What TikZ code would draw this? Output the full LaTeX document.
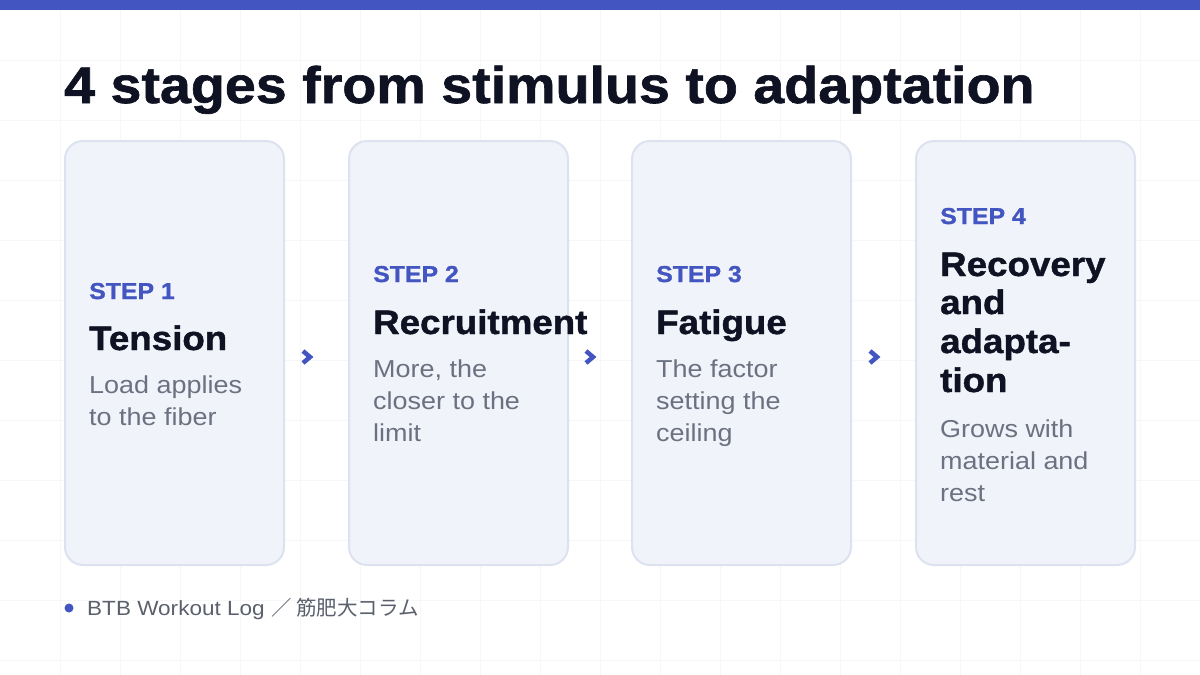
\documentclass[tikz,border=0pt]{standalone}
\usepackage{fontspec}
\setmainfont{Liberation Sans}
\newfontfamily\heavy[FakeStretch=1.08,FakeBold=1.2]{Liberation Sans Bold}
\newfontfamily\widereg[FakeStretch=1.1]{Liberation Sans}
\newfontfamily\cjk{Noto Sans CJK JP}
\definecolor{accent}{HTML}{4355C1}
\definecolor{ink}{HTML}{0F1222}
\definecolor{muted}{HTML}{6B7180}
\definecolor{cardfill}{HTML}{F1F3FA}
\definecolor{cardline}{HTML}{DDE2F0}
\definecolor{gridc}{HTML}{F6F7F9}
\tikzset{
  card/.style={draw=cardline,line width=2pt,fill=cardfill,rounded corners=18pt},
  steplbl/.style={anchor=base west,inner sep=0,text=accent,font=\heavy\fontsize{23}{23}\selectfont},
  ttl/.style={anchor=base west,inner sep=0,text=ink,font=\heavy\fontsize{34}{34}\selectfont},
  desc/.style={anchor=base west,inner sep=0,text=muted,font=\widereg\fontsize{24.5}{24.5}\selectfont},
  chev/.style={draw=accent,line width=4.5pt,line cap=butt,line join=miter},
}
\begin{document}
\begin{tikzpicture}[x=1pt,y=-1pt]
\useasboundingbox (0,0) rectangle (1200,675);
\fill[white] (0,0) rectangle (1200,675);
\foreach \i in {60,120,...,1140} \draw[gridc,line width=1pt] (\i,10) -- (\i,675);
\foreach \j in {60,120,...,660} \draw[gridc,line width=1pt] (0,\j) -- (1200,\j);
\fill[accent] (0,0) rectangle (1200,10);
\node[anchor=base west,inner sep=0,text=ink,font=\heavy\fontsize{51.5}{51.5}\selectfont] (title) at (64,103) {4 stages from stimulus to adaptation};
% cards
\draw[card] (65,141) rectangle (284,565);
\draw[card] (349,141) rectangle (568,565);
\draw[card] (632,141) rectangle (851,565);
\draw[card] (916,141) rectangle (1135,565);
% card 1
\node[steplbl] (s1) at (89,299) {STEP 1};
\node[ttl] (t1) at (89,350) {Tension};
\node[desc] (d1a) at (89,393) {Load applies};
\node[desc] (d1b) at (89,425) {to the fiber};
% card 2
\node[steplbl] (s2) at (373,282) {STEP 2};
\node[ttl] (t2) at (373,334) {Recruitment};
\node[desc] (d2a) at (373,377) {More, the};
\node[desc] (d2b) at (373,409) {closer to the};
\node[desc] (d2c) at (373,441) {limit};
% card 3
\node[steplbl] (s3) at (656,282) {STEP 3};
\node[ttl] (t3) at (656,334) {Fatigue};
\node[desc] (d3a) at (656,377) {The factor};
\node[desc] (d3b) at (656,409) {setting the};
\node[desc] (d3c) at (656,441) {ceiling};
% card 4
\node[steplbl] (s4) at (940,224) {STEP 4};
\node[ttl] (t4a) at (940,276) {Recovery};
\node[ttl] (t4b) at (940,314) {and};
\node[ttl] (t4c) at (940,353) {adapta-};
\node[ttl] (t4d) at (940,392) {tion};
\node[desc] (d4a) at (940,437) {Grows with};
\node[desc] (d4b) at (940,469) {material and};
\node[desc] (d4c) at (940,501) {rest};
% chevrons
\foreach \cx/\nm in {307/c1,590/c2,874/c3}{
  \coordinate (\nm) at (\cx,357);
  \draw[chev] ([xshift=-4pt,yshift=-6pt]\nm) -- ([xshift=3pt]\nm) -- ([xshift=-4pt,yshift=6pt]\nm);
}
% footer
\fill[accent] (69,608) circle (4.5);
\node[anchor=base west,inner sep=0,text=muted!85!black,font=\widereg\fontsize{20.5}{20.5}\selectfont] (foot) at (87,615) {BTB Workout Log {\cjk ／ 筋肥大コラム}};
\end{tikzpicture}
\end{document}
